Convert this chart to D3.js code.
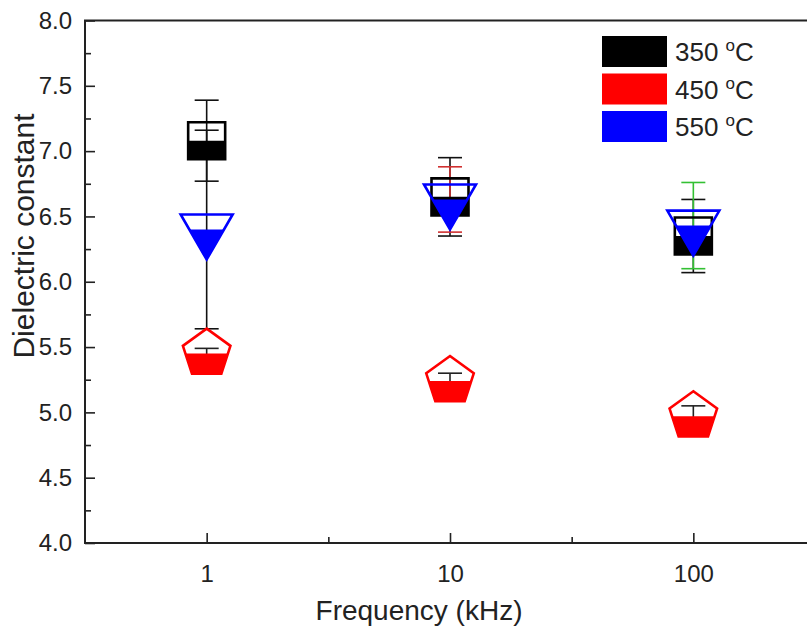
<!DOCTYPE html>
<html>
<head>
<meta charset="utf-8">
<script src="https://cdn.jsdelivr.net/npm/d3@7"></script>
<style>
  body { margin: 0; background: #fff; }
  text { font-family: "Liberation Sans", Arial, sans-serif; fill: #222; }
</style>
</head>
<body>
<div id="chart"></div>
<script>
// data
const frequencies = [1, 10, 100];          // kHz
const temps = ["350", "450", "550"];
const dk350 = [7.08, 6.65, 6.35];
const err350 = [0.31, 0.30, 0.28];
const dk450 = [5.45, 5.24, 4.97];
const err450 = [0.04, 0.06, 0.08];
const dk550 = [6.40, 6.63, 6.43];
const err550 = [0.76, 0.25, 0.33];
const yTicks = [4.0, 4.5, 5.0, 5.5, 6.0, 6.5, 7.0, 7.5, 8.0];
const yMinorTicks = [4.25, 4.75, 5.25, 5.75, 6.25, 6.75, 7.25, 7.75];
const xTicks = [1, 10, 100];
const xMinorTicks = [Math.sqrt(10), Math.sqrt(1000)];

const width = 807, height = 633;
const plot = { left: 85, right: 815, top: 20.5, bottom: 543 };

const series = [
    { temp: temps[0], values: dk350, errors: err350, color: "#000000", errColors: ["#111", "#111", "#111"], shape: "square" },
    { temp: temps[1], values: dk450, errors: err450, color: "#ff0000", errColors: ["#222", "#222", "#222"], shape: "pentagon" },
    { temp: temps[2], values: dk550, errors: err550, color: "#0000ff", errColors: ["#111", "#d03030", "#33c033"], shape: "triangle" }
];

const svg = d3.select("#chart").append("svg")
    .attr("width", width)
    .attr("height", height);

// lower-half clip used for the half filled symbols
svg.append("defs").append("clipPath")
    .attr("id", "lowerHalf")
    .append("rect")
    .attr("x", -60).attr("y", 0).attr("width", 120).attr("height", 60);

const xScale = d3.scaleLog()
    .domain([Math.pow(10, -0.5), Math.pow(10, 2.5)])
    .range([plot.left, plot.right]);

const yScale = d3.scaleLinear()
    .domain([4, 8])
    .range([plot.bottom, plot.top]);

// y axis, ticks pointing inward
const yAxis = svg.append("g")
    .attr("transform", `translate(${plot.left},0)`)
    .call(d3.axisLeft(yScale).tickValues(yTicks).tickFormat(d3.format(".1f"))
        .tickSize(-10).tickPadding(13));
yAxis.select(".domain").remove();
yAxis.selectAll("line").attr("stroke", "#222").attr("stroke-width", 1.6);
yAxis.selectAll("text").style("font-size", "24px").attr("fill", "#222");

const yMinor = svg.append("g")
    .attr("transform", `translate(${plot.left},0)`)
    .call(d3.axisLeft(yScale).tickValues(yMinorTicks).tickFormat("").tickSize(-6));
yMinor.select(".domain").remove();
yMinor.selectAll("line").attr("stroke", "#222").attr("stroke-width", 1.6);

// x axis (log)
const xAxis = svg.append("g")
    .attr("transform", `translate(0,${plot.bottom})`)
    .call(d3.axisBottom(xScale).tickValues(xTicks).tickFormat(d3.format("d"))
        .tickSize(-10).tickPadding(22));
xAxis.select(".domain").remove();
xAxis.selectAll("line").attr("stroke", "#222").attr("stroke-width", 1.6);
xAxis.selectAll("text").style("font-size", "24px").attr("fill", "#222");

const xMinor = svg.append("g")
    .attr("transform", `translate(0,${plot.bottom})`)
    .call(d3.axisBottom(xScale).tickValues(xMinorTicks).tickFormat("").tickSize(-6));
xMinor.select(".domain").remove();
xMinor.selectAll("line").attr("stroke", "#222").attr("stroke-width", 1.6);

// frame
svg.append("rect")
    .attr("x", plot.left)
    .attr("y", plot.top)
    .attr("width", plot.right - plot.left)
    .attr("height", plot.bottom - plot.top)
    .attr("fill", "none")
    .attr("stroke", "#222")
    .attr("stroke-width", 2);

// axis titles
svg.append("text")
    .attr("x", 419)
    .attr("y", 620)
    .attr("text-anchor", "middle")
    .style("font-size", "28px")
    .text("Frequency (kHz)");

svg.append("text")
    .attr("transform", "translate(34,236) rotate(-90)")
    .attr("text-anchor", "middle")
    .style("font-size", "30px")
    .text("Dielectric constant");

// symbol shapes, centred on the data point
function symbolPath(shape) {
    if (shape === "square") {
        const s = 37;
        return `M${-s / 2},${-s / 2}H${s / 2}V${s / 2}H${-s / 2}Z`;
    }
    if (shape === "triangle") {
        // inverted triangle, centroid at the point
        return "M-26,-15L26,-15L0,30Z";
    }
    const R = 25;
    const pts = d3.range(5).map(k => {
        const a = (-90 + k * 72) * Math.PI / 180;
        return [R * Math.cos(a), R * Math.sin(a)];
    });
    return "M" + pts.map(p => p.join(",")).join("L") + "Z";
}

const points = series.flatMap(s => frequencies.map((f, i) => ({
    f, v: s.values[i], e: s.errors[i], color: s.color, errColor: s.errColors[i], shape: s.shape
})));

// error bars first
const errG = svg.append("g");
errG.selectAll(".err")
    .data(points)
    .enter()
    .append("g")
    .attr("class", "err")
    .each(function(d) {
        const g = d3.select(this);
        const x = xScale(d.f);
        const y1 = yScale(d.v + d.e), y2 = yScale(d.v - d.e);
        g.append("line").attr("x1", x).attr("x2", x).attr("y1", y1).attr("y2", y2);
        g.append("line").attr("x1", x - 12).attr("x2", x + 12).attr("y1", y1).attr("y2", y1);
        g.append("line").attr("x1", x - 12).attr("x2", x + 12).attr("y1", y2).attr("y2", y2);
        g.selectAll("line").attr("stroke", d.errColor).attr("stroke-width", 1.6);
    });

// half filled markers
const markers = svg.append("g").selectAll(".marker")
    .data(points)
    .enter()
    .append("g")
    .attr("class", "marker")
    .attr("transform", d => `translate(${xScale(d.f)},${yScale(d.v)})`);

markers.append("path")
    .attr("d", d => symbolPath(d.shape))
    .attr("fill", d => d.color)
    .attr("clip-path", "url(#lowerHalf)");

markers.append("path")
    .attr("d", d => symbolPath(d.shape))
    .attr("fill", "none")
    .attr("stroke", d => d.color)
    .attr("stroke-width", 2.6)
    .attr("stroke-linejoin", "miter");

// legend
const legend = svg.append("g").selectAll(".legend")
    .data(series)
    .enter()
    .append("g")
    .attr("class", "legend")
    .attr("transform", (d, i) => `translate(602,${36 + i * 37.5})`);

legend.append("rect")
    .attr("width", 65)
    .attr("height", 31)
    .attr("fill", d => d.color);

const legendText = legend.append("text")
    .attr("x", 73)
    .attr("y", 25)
    .style("font-size", "26px");
legendText.append("tspan").text(d => d.temp + " ");
legendText.append("tspan").attr("dy", -10).style("font-size", "17px").text("o");
legendText.append("tspan").attr("dy", 10).text("C");
</script>
</body>
</html>
